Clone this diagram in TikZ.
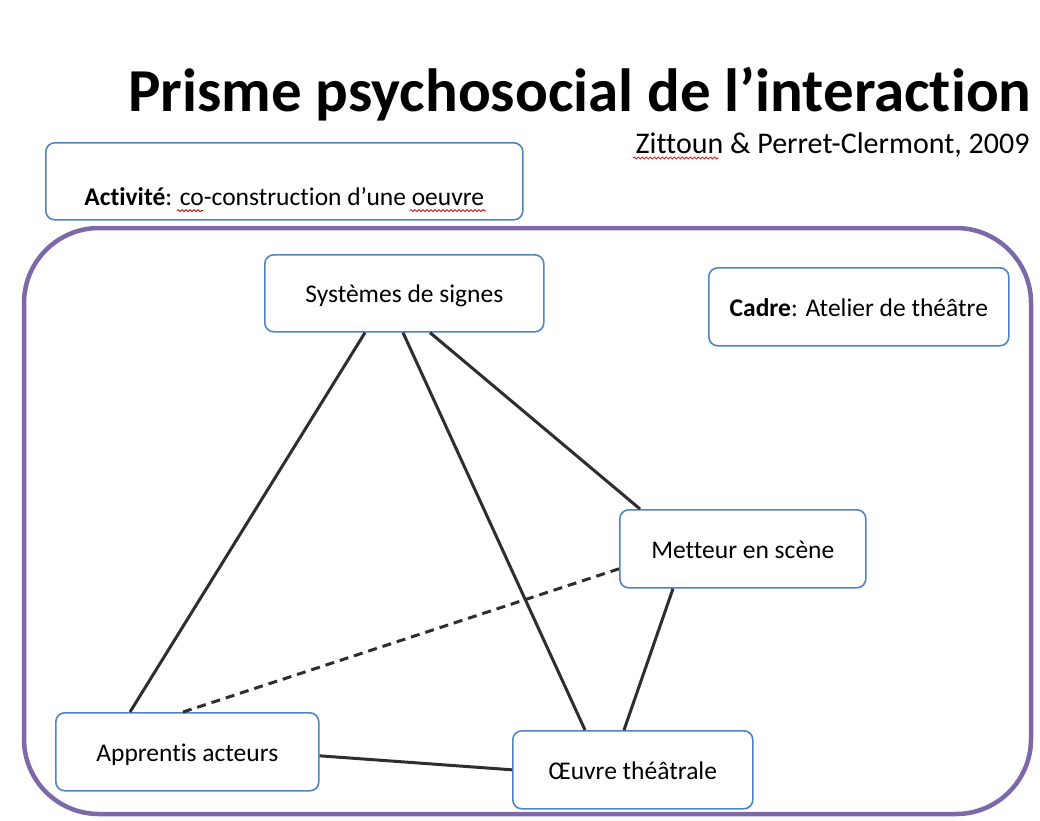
\documentclass[tikz,border=0pt]{standalone}
\usepackage{fontspec}
\setmainfont{Carlito}[Ligatures={NoCommon}]
\usetikzlibrary{calc,decorations.pathmorphing}
\definecolor{boxblue}{HTML}{4F84C4}
\definecolor{frame}{HTML}{7E68A8}
\definecolor{edge}{HTML}{2E2E2E}
\tikzset{
  box/.style={draw=boxblue, line width=1.6pt, rounded corners=9pt, fill=white, anchor=north west, inner sep=0pt, text height=21pt, text depth=2pt, font=\fontsize{25.5}{28}\selectfont},
  link/.style={draw=edge, line width=3pt},
  dlink/.style={draw=edge, line width=3pt, dash pattern=on 9pt off 6pt},
  spell/.style={draw=red!85!black, line width=0.8pt, decorate, decoration={snake, amplitude=1pt, segment length=4pt}}
}
\begin{document}
\begin{tikzpicture}[x=1pt,y=-1pt]
\useasboundingbox[fill=white] (0,0) rectangle (1040,820);
% title
\node[anchor=base east, font=\fontsize{61}{70}\bfseries\selectfont] (title) at (1035,111) {Prisme psychosocial de l’interaction};
\node[anchor=base east, font=\fontsize{30}{34}\selectfont] (author) at (1033,153) {Zittoun \& Perret-Clermont, 2009};
% activity box
\node[box, minimum width=477pt, minimum height=77pt] (act) at (45,142) {};
\node[anchor=base, font=\fontsize{25.5}{28}\selectfont] (acttext) at ($(act.south)+(0,-15)$) {\textbf{Activité}: co-construction d’une oeuvre};
% big frame
\draw[frame, line width=4.5pt, rounded corners=75pt] (24,228) rectangle (1031,814);
% boxes
\node[box, minimum width=279pt, minimum height=77pt] (sys) at (264,254) {Systèmes de signes};
\node[box, minimum width=300pt, minimum height=78pt] (cadre) at (708,267) {\textbf{Cadre}: Atelier de théâtre};
\node[box, minimum width=246pt, minimum height=78pt] (met) at (619,509) {Metteur en scène};
\node[box, minimum width=263pt, minimum height=78pt] (app) at (55,712) {Apprentis acteurs};
\node[box, minimum width=240pt, minimum height=78pt] (oeu) at (512,730) {Œuvre théâtrale};
% connectors
\path[link] ($(sys.south west)+(101,0)$) -- ($(app.north west)+(75,0)$);
\path[link] ($(sys.south west)+(139,0)$) -- ($(oeu.north west)+(73,0)$);
\path[link] ($(sys.south west)+(166,0)$) -- ($(met.north west)+(21,0)$);
\path[link] ($(met.south west)+(54,0)$) -- ($(oeu.north west)+(112,0)$);
\path[link] ($(app.east)+(0,4)$) -- ($(oeu.west)+(0,0)$);
\path[dlink] ($(app.north west)+(128,0)$) -- ($(met.west)+(0,20)$);
% spell-check marks
\path[spell] ($(acttext.base west)+(96,5)$) -- ++(26,0);
\path[spell] ($(acttext.base east)+(-78,5)$) -- ++(76,0);
\path[spell] ($(author.base west)+(1,5)$) -- ++(86,0);
\end{tikzpicture}
\end{document}
